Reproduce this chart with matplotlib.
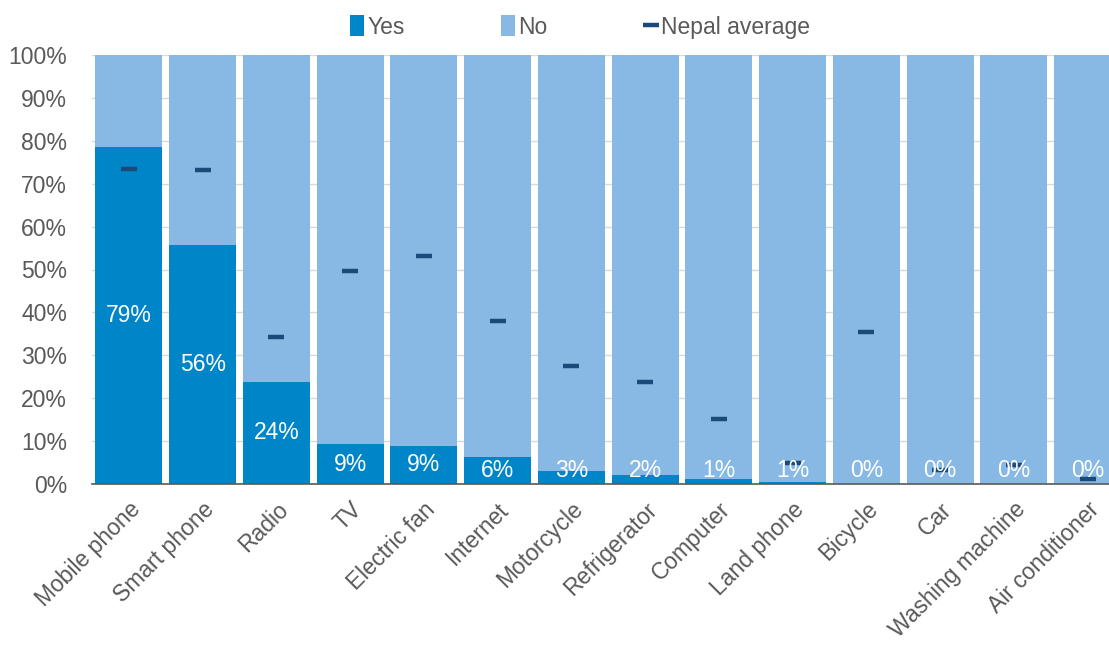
import matplotlib
matplotlib.use("Agg")
import matplotlib.pyplot as plt
import numpy as np

categories = ["Mobile phone", "Smart phone", "Radio", "TV", "Electric fan", "Internet",
              "Motorcycle", "Refrigerator", "Computer", "Land phone", "Bicycle", "Car",
              "Washing machine", "Air conditioner"]
yes_vals = [78.6, 55.7, 23.8, 9.3, 8.9, 6.3, 3.0, 2.1, 1.2, 0.5, 0.1, 0.0, 0.0, 0.0]
no_vals = [100 - v for v in yes_vals]
nepal_avg = [73.4, 73.2, 34.3, 49.6, 53.1, 38.0, 27.5, 23.8, 15.2, 4.8, 35.4, 3.3, 4.4, 1.1]
labels = ["79%", "56%", "24%", "9%", "9%", "6%", "3%", "2%", "1%", "1%", "0%", "0%", "0%", "0%"]

plt.rcParams['font.family'] = ['Liberation Sans', 'DejaVu Sans']
GRAY = "#595959"
YES_C = "#0086C8"
NO_C = "#88B9E4"
AVG_C = "#1B4A7A"
FS = 16.5

fig = plt.figure(figsize=(11.09, 6.46), dpi=100)
ax = fig.add_axes([92/1109, 1-484/646, 1-92/1109, (484-55)/646])

x = np.arange(len(categories))
w = 0.91
h_yes = ax.bar(x, yes_vals, width=w, color=YES_C, label="Yes", zorder=2)
h_no = ax.bar(x, no_vals, width=w, bottom=yes_vals, color=NO_C, label="No", zorder=2)
h_avg, = ax.plot(x, nepal_avg, ls="none", marker="_", ms=12, mew=3.2, color=AVG_C,
                 label="Nepal average", zorder=4)

for xi, v, lab in zip(x, yes_vals, labels):
    ax.text(xi, max(v/2, 3.2), lab, ha="center", va="center", color="white",
            fontsize=FS, zorder=5)

ax.set_xlim(-0.5, 13.29)
ax.set_ylim(0, 100)
ax.set_yticks(np.arange(0, 101, 10))
ax.set_yticklabels([f"{v}%" for v in range(0, 101, 10)])
ax.set_xticks(x)
ax.set_xticklabels(categories, rotation=45, ha="right", rotation_mode="anchor")
ax.tick_params(axis="both", colors=GRAY, labelsize=FS, length=0)
ax.tick_params(axis="x", pad=10)
ax.tick_params(axis="y", pad=18)
ax.yaxis.grid(True, color="#D9D9D9", lw=1, zorder=0)
ax.set_axisbelow(True)
for s in ["top", "right", "left"]:
    ax.spines[s].set_visible(False)
ax.spines["bottom"].set_color("#595959")
ax.spines["bottom"].set_linewidth(1.2)
ax.spines["bottom"].set_zorder(6)

leg = ax.legend(handles=[h_yes, h_no, h_avg], labels=["Yes", "No", "Nepal average"],
                loc="center", bbox_to_anchor=((580 - 92) / 1017, 1.0 + 28/429),
                ncol=3, frameon=False, fontsize=FS, handlelength=0.6, handleheight=1.0,
                handletextpad=0.15, columnspacing=4.2, labelcolor=GRAY)

fig.savefig("out.png", dpi=100)
